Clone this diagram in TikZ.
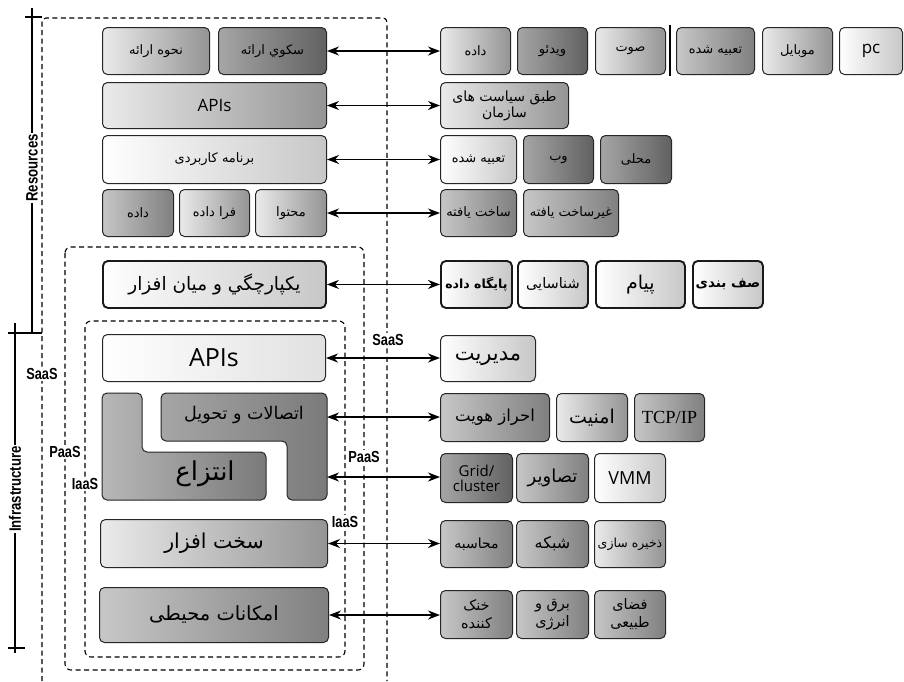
\documentclass[tikz,border=0pt]{standalone}
\usepackage{fontspec}
\setmainfont{Open Sans}
\newfontfamily\fafont[Script=Arabic]{DejaVu Sans}
\newfontfamily\condfont[FakeStretch=0.8]{Liberation Sans}
\newfontfamily\serifont{Liberation Serif}
\TeXXeTstate=1
\newcommand{\fa}[1]{{\fafont\beginR #1\endR}}
\usetikzlibrary{arrows.meta}
\begin{document}
\begin{tikzpicture}[x=1pt,y=-1pt,
  bx/.style={draw=black!85, line width=1pt, rounded corners=5pt, inner sep=1pt, anchor=north west, align=center, text=black, font=\fontsize{13}{15}\selectfont},
  thk/.style={line width=1.9pt, draw=black!90},
  s0/.style={left color=white, right color=black!22},
  s1/.style={left color=white!92!black, right color=black!42},
  s2/.style={left color=black!22, right color=black!50},
  s3/.style={left color=black!35, right color=black!62},
  dsh/.style={draw=black, line width=1.1pt, dash pattern=on 5pt off 3.5pt},
  arr/.style={line width=1.5pt, {Stealth[length=12pt,width=9pt]}-{Stealth[length=12pt,width=9pt]}},
  lab/.style={fill=white, inner sep=1pt, font=\condfont\bfseries\fontsize{16}{17}\selectfont},
  axlab/.style={fill=white, inner sep=1pt, rotate=90, font=\condfont\bfseries\fontsize{16.5}{17}\selectfont},
  axis/.style={line width=2.4pt, draw=black}
]
\useasboundingbox (0,0) rectangle (904,681);
\fill[white] (0,0) rectangle (904,681);

% dashed layers
\draw[dsh, rounded corners=4pt] (42,681) -- (42,18) -- (387,18) -- (387,681);
\draw[dsh, rounded corners=6pt] (65,247) rectangle (364,670);
\draw[dsh, rounded corners=6pt] (85,321) rectangle (345,657);

% axes
\draw[axis] (32,8) -- (32,333);
\draw[axis] (25,17) -- (42,17);
\draw[axis] (25,333) -- (42,333);
\node[axlab] (res) at (32,168) {Resources};
\draw[axis] (15,323) -- (15,653);
\draw[axis] (8,333) -- (25,333);
\draw[axis] (8,648) -- (25,648);
\node[axlab] (infra) at (15,489) {Infrastructure};

% ---- Resources: left column
\node[bx,s1,minimum width=107pt,minimum height=47pt] (pres) at (102,27) {\fa{نحوه ارائه}};
\node[bx,s3,minimum width=108pt,minimum height=47pt] (plat) at (218,27) {\fa{سکوي ارائه}};
\node[bx,s1,minimum width=224pt,minimum height=46pt,font=\fontsize{17}{19}\selectfont] (apiT) at (102,82) {APIs};
\node[bx,s0,minimum width=224pt,minimum height=48pt] (app) at (102,135) {\fa{برنامه کاربردی}};
\node[bx,s2,minimum width=71pt,minimum height=47pt] (dataL) at (102,189) {\fa{داده}};
\node[bx,s1,minimum width=70pt,minimum height=47pt] (meta) at (179,189) {\fa{فرا داده}};
\node[bx,s1,minimum width=71pt,minimum height=47pt] (cont) at (255,189) {\fa{محتوا}};

% ---- Resources: right column
\node[bx,s1,minimum width=70pt,minimum height=47pt] (dataR) at (440,27) {\fa{داده}};
\node[bx,s3,minimum width=70pt,minimum height=47pt] (video) at (517,27) {\fa{ویدئو}};
\node[bx,s1,minimum width=70pt,minimum height=47pt] (audio) at (595,27) {\fa{صوت}};
\draw[line width=2.4pt] (670,25) -- (670,76);
\node[bx,s2,minimum width=78pt,minimum height=47pt] (embd) at (676,27) {\fa{تعبیه شده}};
\node[bx,s1,minimum width=70pt,minimum height=47pt] (mob) at (762,27) {\fa{موبایل}};
\node[bx,s0,minimum width=63pt,minimum height=47pt,font=\fontsize{17}{19}\selectfont] (pc) at (839,27) {pc};

\node[bx,s1,minimum width=128pt,minimum height=46pt,font=\fontsize{14}{16}\selectfont] (policy) at (440,82) {\fa{طبق سیاست های}\\[0pt]\fa{سازمان}};
\node[bx,s0,minimum width=76pt,minimum height=48pt] (embd2) at (440,135) {\fa{تعبیه شده}};
\node[bx,s3,minimum width=70pt,minimum height=48pt] (web) at (523,135) {\fa{وب}};
\node[bx,s3,minimum width=71pt,minimum height=48pt] (local) at (600,135) {\fa{محلی}};
\node[bx,s2,minimum width=76pt,minimum height=47pt] (struct) at (440,189) {\fa{ساخت یافته}};
\node[bx,s2,minimum width=95pt,minimum height=47pt] (unstruct) at (523,189) {\fa{غیرساخت یافته}};

% ---- PaaS
\node[bx,s0,thk,minimum width=223pt,minimum height=47pt,font=\fontsize{18.5}{20}\selectfont] (integ) at (102,260) {\fa{یکپارچگي و میان افزار}};
\node[bx,s0,thk,minimum width=71pt,minimum height=47pt,font=\bfseries\fontsize{12.5}{14}\selectfont] (db) at (440,260) {\fa{پایگاه داده}};
\node[bx,s0,thk,minimum width=70pt,minimum height=47pt,font=\fontsize{14.5}{16}\selectfont] (ident) at (517,260) {\fa{شناسایی}};
\node[bx,s0,thk,minimum width=89pt,minimum height=47pt,font=\fontsize{19}{21}\selectfont] (msg) at (595,260) {\fa{پیام}};
\node[bx,s0,thk,minimum width=70pt,minimum height=47pt,font=\bfseries\fontsize{13.5}{15}\selectfont] (queue) at (692,260) {\fa{صف بندی}};

% ---- IaaS
\node[bx,left color=white,right color=black!12,minimum width=223pt,minimum height=47pt,font=\fontsize{25}{27}\selectfont] (apiB) at (102,334) {APIs};
\node[bx,s0,minimum width=95pt,minimum height=46pt,font=\fontsize{21}{23}\selectfont] (mgmt) at (440,335) {\fa{مدیریت}};

% interlocking shapes
\path[draw=black!85, line width=1pt, rounded corners=5pt, left color=black!28, right color=black!52]
  (102,393) -- (142,393) -- (142,452) -- (266,452) -- (266,500) -- (102,500) -- cycle;
\path[draw=black!85, line width=1pt, rounded corners=5pt, left color=black!35, right color=black!52]
  (161,393) -- (327,393) -- (327,500) -- (287,500) -- (287,441) -- (161,441) -- cycle;
\node[font=\fontsize{17.5}{19}\selectfont, inner sep=0pt] (connT) at (244,415) {\fa{اتصالات و تحویل}};
\node[font=\fontsize{26}{28}\selectfont, inner sep=0pt] (abstT) at (205,474) {\fa{انتزاع}};
\coordinate (conn) at (327,417);
\coordinate (abst) at (327,477);

\node[bx,s2,minimum width=109pt,minimum height=48pt,font=\fontsize{16.5}{18}\selectfont] (auth) at (440,393) {\fa{احراز هویت}};
\node[bx,s1,minimum width=71pt,minimum height=48pt,font=\fontsize{19}{21}\selectfont] (sec) at (556,393) {\fa{امنیت}};
\node[bx,s2,minimum width=70pt,minimum height=48pt,font=\serifont\fontsize{18.5}{20}\selectfont] (tcp) at (634,393) {TCP/IP};

\node[bx,s3,minimum width=72pt,minimum height=49pt,font=\fontsize{15}{15}\selectfont] (grid) at (440,453) {Grid/\\cluster};
\node[bx,s2,minimum width=72pt,minimum height=49pt,font=\fontsize{18}{20}\selectfont] (img) at (516,453) {\fa{تصاویر}};
\node[bx,s0,minimum width=71pt,minimum height=49pt,font=\fontsize{18}{20}\selectfont] (vmm) at (594,453) {VMM};

\node[bx,s1,minimum width=227pt,minimum height=48pt,font=\fontsize{20.5}{22}\selectfont] (hw) at (100,519) {\fa{سخت افزار}};
\node[bx,s2,minimum width=72pt,minimum height=47pt,font=\fontsize{14}{16}\selectfont] (comp) at (440,520) {\fa{محاسبه}};
\node[bx,s2,minimum width=72pt,minimum height=47pt,font=\fontsize{16}{18}\selectfont] (net) at (516,520) {\fa{شبکه}};
\node[bx,s1,minimum width=71pt,minimum height=47pt,font=\fontsize{12.5}{14}\selectfont] (store) at (594,520) {\fa{ذخیره سازی}};

\node[bx,s2,minimum width=229pt,minimum height=55pt,font=\fontsize{19.5}{21}\selectfont] (env) at (99,587) {\fa{امکانات محیطی}};
\node[bx,s2,minimum width=72pt,minimum height=48pt,font=\fontsize{14.5}{17}\selectfont] (cool) at (440,590) {\fa{خنک}\\[1pt]\fa{کننده}};
\node[bx,s2,minimum width=72pt,minimum height=48pt,font=\fontsize{14.5}{17}\selectfont] (power) at (516,590) {\fa{برق و}\\[1pt]\fa{انرژی}};
\node[bx,s2,minimum width=71pt,minimum height=48pt,font=\fontsize{14.5}{17}\selectfont] (space) at (594,590) {\fa{فضای}\\[1pt]\fa{طبیعی}};

% arrows
\draw[arr] (plat.east) -- (plat.east -| dataR.west);
\draw[arr] (apiT.east) -- (apiT.east -| policy.west);
\draw[arr] (app.east) -- (app.east -| embd2.west);
\draw[arr] (cont.east) -- (cont.east -| struct.west);
\draw[arr] (integ.east) -- (integ.east -| db.west);
\draw[arr] (apiB.east) -- (apiB.east -| mgmt.west);
\draw[arr] (conn) -- (conn -| auth.west);
\draw[arr] (abst) -- (abst -| grid.west);
\draw[arr] (hw.east) -- (hw.east -| comp.west);
\draw[arr] (env.east) -- (env.east -| cool.west);

% layer labels
\node[lab] (saasL) at (42,374) {SaaS};
\node[lab] (paasL) at (65,452) {PaaS};
\node[lab] (iaasL) at (85,484) {IaaS};
\node[lab] (saasR) at (388,340) {SaaS};
\node[lab] (paasR) at (364,457) {PaaS};
\node[lab] (iaasR) at (345,522) {IaaS};
\end{tikzpicture}
\end{document}
